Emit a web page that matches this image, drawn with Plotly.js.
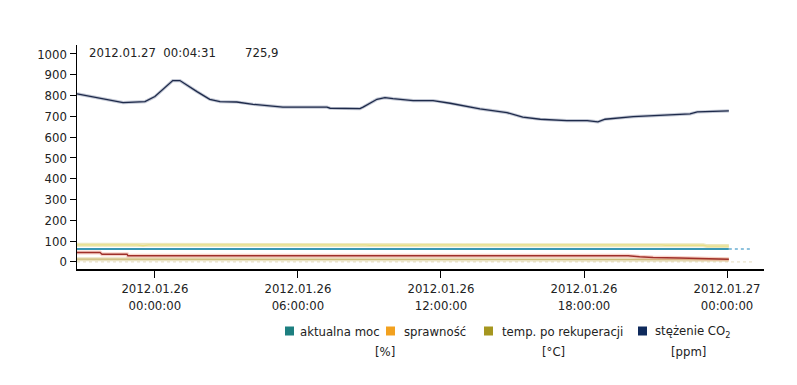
<!DOCTYPE html>
<html>
<head>
<meta charset="utf-8">
<script src="https://cdn.plot.ly/plotly-3.0.1.min.js"></script>
<style>
  html, body { margin: 0; padding: 0; background: #fff; }
  #chart { width: 797px; height: 385px; }
</style>
</head>
<body>
<div id="chart"></div>
<script>
// CO2 concentration [ppm]
const co2Times = [
  '2012-01-25 20:44', '2012-01-25 21:42', '2012-01-25 22:07', '2012-01-25 22:40',
  '2012-01-25 23:35', '2012-01-26 00:00', '2012-01-26 00:45', '2012-01-26 01:03',
  '2012-01-26 01:46', '2012-01-26 02:18', '2012-01-26 02:44', '2012-01-26 03:26',
  '2012-01-26 04:07', '2012-01-26 04:50', '2012-01-26 05:22', '2012-01-26 07:13',
  '2012-01-26 07:21', '2012-01-26 08:36', '2012-01-26 08:44', '2012-01-26 09:19',
  '2012-01-26 09:39', '2012-01-26 09:59', '2012-01-26 10:50', '2012-01-26 11:40',
  '2012-01-26 12:23', '2012-01-26 13:38', '2012-01-26 14:46', '2012-01-26 15:26',
  '2012-01-26 16:10', '2012-01-26 17:17', '2012-01-26 18:08', '2012-01-26 18:35',
  '2012-01-26 18:53', '2012-01-26 20:04', '2012-01-26 21:11', '2012-01-26 22:27',
  '2012-01-26 22:45', '2012-01-27 00:04:31'
];
const co2Values = [
  808, 787, 776, 766,
  771, 795, 872, 872,
  819, 782, 771, 769,
  758, 750, 744, 744,
  739, 737, 744, 782,
  790, 785, 776, 776,
  763, 736, 718, 696,
  686, 679, 679, 673,
  686, 699, 705, 712,
  721, 725.9
];

// efficiency [%]
const effTimes = [
  '2012-01-25 20:44', '2012-01-25 23:15', '2012-01-25 23:30', '2012-01-25 23:45',
  '2012-01-26 08:50', '2012-01-26 09:00', '2012-01-26 11:00', '2012-01-26 11:10',
  '2012-01-26 21:15', '2012-01-26 21:25', '2012-01-26 23:00', '2012-01-26 23:10',
  '2012-01-27 00:04:31'
];
const effValues = [82, 82, 78, 82, 82, 80, 80, 82, 82, 80, 80, 76, 76];

// current power [%]
const powerTimes = ['2012-01-25 20:44', '2012-01-27 00:04:31'];
const powerValues = [62, 62];
const powerTailTimes = ['2012-01-27 00:04:31', '2012-01-27 01:03'];
const powerTailValues = [62, 62];

// outdoor temperature [°C]
const outTimes = [
  '2012-01-25 20:44', '2012-01-25 21:42', '2012-01-25 21:47', '2012-01-25 22:50',
  '2012-01-25 22:52', '2012-01-26 19:51', '2012-01-26 20:20', '2012-01-26 20:54',
  '2012-01-26 22:00', '2012-01-26 22:40', '2012-01-26 23:20', '2012-01-27 00:04:31'
];
const outValues = [45, 45, 37, 37, 30, 30, 25, 21, 19, 18, 14, 13];

// supply temperature after heat recovery [°C]
const supplyTimes = ['2012-01-25 20:44', '2012-01-26 23:30', '2012-01-27 00:04:31'];
const supplyValues = [13, 13, 11];

// zero reference
const zeroTimes = ['2012-01-25 20:44', '2012-01-27 01:03'];
const zeroValues = [0, 0];

// axis ticks
const xTickVals = ['2012-01-26 00:00', '2012-01-26 06:00', '2012-01-26 12:00',
                   '2012-01-26 18:00', '2012-01-27 00:00'];
const xTickText = ['2012.01.26<br>00:00:00', '2012.01.26<br>06:00:00', '2012.01.26<br>12:00:00',
                   '2012.01.26<br>18:00:00', '2012.01.27<br>00:00:00'];
const yTickVals = [0, 100, 200, 300, 400, 500, 600, 700, 800, 900, 1000];

// legend entries and units
const legendNames = ['aktualna moc', 'sprawność', 'temp. po rekuperacji', 'stężenie CO<sub>2</sub>'];
const legendColors = ['#1d7f80', '#f2a11f', '#a5961f', '#0f2a5c'];
const legendUnits = ['[%]', '[°C]', '[ppm]'];

const FONT = '"DejaVu Sans Condensed", "Liberation Sans Narrow", "Arial Narrow", sans-serif';
const FS = 13;

// plot area in pixels
const W = 797, H = 385;
const M = { l: 77, r: 33, t: 45, b: 116 };
const PW = W - M.l - M.r, PH = H - M.t - M.b;
const px = X => (X - M.l) / PW;
const py = Y => (H - M.b - Y) / PH;

const traces = [
  { x: zeroTimes, y: zeroValues, mode: 'lines',
    line: { color: '#e4dcc0', width: 1, dash: 'dot' } },
  { x: supplyTimes, y: supplyValues, mode: 'lines',
    line: { color: 'rgba(215,200,140,0.55)', width: 4 } },
  { x: supplyTimes, y: supplyValues, mode: 'lines',
    line: { color: '#cdbb7a', width: 1.2 } },
  { x: outTimes, y: outValues, mode: 'lines',
    line: { color: 'rgba(240,160,140,0.45)', width: 4 } },
  { x: outTimes, y: outValues, mode: 'lines',
    line: { color: '#9e2f2a', width: 1.4 } },
  { x: effTimes, y: effValues, mode: 'lines',
    line: { color: 'rgba(220,210,120,0.5)', width: 4 } },
  { x: effTimes, y: effValues, mode: 'lines',
    line: { color: '#e9e08a', width: 1.4 } },
  { x: powerTimes, y: powerValues, mode: 'lines',
    line: { color: '#3a98b4', width: 2 } },
  { x: powerTailTimes, y: powerTailValues, mode: 'lines',
    line: { color: '#6aaed2', width: 1.5, dash: 'dot' } },
  { x: co2Times, y: co2Values, mode: 'lines',
    line: { color: 'rgba(120,130,160,0.45)', width: 3.2 } },
  { x: co2Times, y: co2Values, mode: 'lines',
    line: { color: '#1e2a4a', width: 1.3 } }
].map(t => Object.assign({ showlegend: false, hoverinfo: 'skip' }, t));

// legend: squares and labels laid out below the plot
const legendSquareX = [285, 386, 484, 638];
const legendTextX = [298, 402, 500, 653];
const legendY = 331;
const sq = 9;
const shapes = legendSquareX.map((x0, i) => ({
  type: 'rect', xref: 'paper', yref: 'paper',
  x0: px(x0), x1: px(x0 + sq), y0: py(legendY + sq / 2), y1: py(legendY - sq / 2),
  fillcolor: legendColors[i], line: { width: 0 }
}));

const textFont = { family: FONT, size: FS, color: '#222' };
const annotations = legendNames.map((name, i) => ({
  xref: 'paper', yref: 'paper', x: px(legendTextX[i]), y: py(legendY),
  xanchor: 'left', yanchor: 'middle', showarrow: false,
  text: name, font: textFont
}));
const unitX = [385, 553, 688];
legendUnits.forEach((u, i) => annotations.push({
  xref: 'paper', yref: 'paper', x: px(unitX[i]), y: py(351),
  xanchor: 'center', yanchor: 'middle', showarrow: false,
  text: u, font: textFont
}));

// readout of the latest sample
const lastTime = co2Times[co2Times.length - 1];
const lastValue = co2Values[co2Values.length - 1];
annotations.push({
  xref: 'paper', yref: 'paper', x: px(87), y: py(52),
  xanchor: 'left', yanchor: 'middle', showarrow: false,
  text: lastTime.slice(0, 10).replace(/-/g, '.') + '  ' + lastTime.slice(11),
  font: textFont
});
annotations.push({
  xref: 'paper', yref: 'paper', x: px(243), y: py(52),
  xanchor: 'left', yanchor: 'middle', showarrow: false,
  text: String(lastValue).replace('.', ','),
  font: textFont
});

const layout = {
  width: W, height: H,
  margin: M,
  paper_bgcolor: '#fff', plot_bgcolor: '#fff',
  showlegend: false,
  font: textFont,
  xaxis: {
    type: 'date',
    range: ['2012-01-25 20:44', '2012-01-27 01:33'],
    tickmode: 'array', tickvals: xTickVals, ticktext: xTickText,
    showgrid: false, zeroline: false,
    showline: true, linecolor: '#000', linewidth: 1.5,
    ticks: 'outside', ticklen: 7, tickcolor: '#000', tickwidth: 1,
    tickfont: textFont
  },
  yaxis: {
    range: [-34, 1043],
    tickmode: 'array', tickvals: yTickVals,
    showgrid: false, zeroline: false,
    showline: true, linecolor: '#000', linewidth: 1.5,
    ticks: 'outside', ticklen: 6, tickcolor: '#000', tickwidth: 1,
    tickfont: textFont
  },
  shapes: shapes,
  annotations: annotations
};

Plotly.newPlot('chart', traces, layout, { displayModeBar: false, staticPlot: true });
</script>
</body>
</html>
